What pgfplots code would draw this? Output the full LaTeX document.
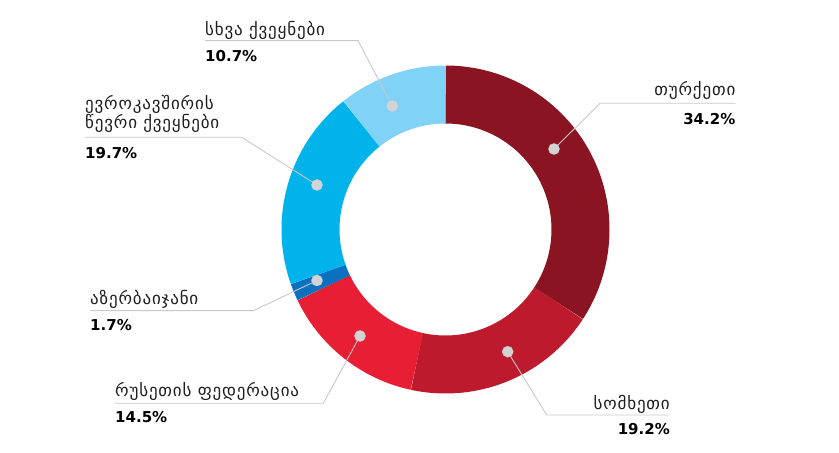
\documentclass[border=0pt]{standalone}
\usepackage{pgfplots}
\pgfplotsset{compat=1.18}
\usepackage{pgfplotstable}
\usepackage{fontspec}
\setmainfont{DejaVu Sans}
\newfontfamily\geofont[LetterSpace=5]{DejaVu Sans}
\definecolor{cTur}{HTML}{8A1421}
\definecolor{cArm}{HTML}{BD1A2D}
\definecolor{cRus}{HTML}{E81E34}
\definecolor{cAze}{HTML}{0B70C0}
\definecolor{cEU}{HTML}{00B3EB}
\definecolor{cOth}{HTML}{80D3F7}
\definecolor{dotgray}{HTML}{D3D3D5}
\definecolor{linegray}{HTML}{C8C8C8}
\definecolor{txt}{HTML}{1E1E1E}

\pgfplotstableread{
slice share
Turkey 34.2
Armenia 19.2
Russia 14.5
Azerbaijan 1.7
EU 19.7
Other 10.7
}\shares

\pgfplotstablegetelem{0}{share}\of\shares \let\vA\pgfplotsretval
\pgfplotstablegetelem{1}{share}\of\shares \let\vB\pgfplotsretval
\pgfplotstablegetelem{2}{share}\of\shares \let\vC\pgfplotsretval
\pgfplotstablegetelem{3}{share}\of\shares \let\vD\pgfplotsretval
\pgfplotstablegetelem{4}{share}\of\shares \let\vE\pgfplotsretval
\pgfplotstablegetelem{5}{share}\of\shares \let\vF\pgfplotsretval
\pgfmathsetmacro\aO{90}
\pgfmathsetmacro\aA{\aO-3.6*\vA}
\pgfmathsetmacro\aB{\aA-3.6*\vB}
\pgfmathsetmacro\aC{\aB-3.6*\vC}
\pgfmathsetmacro\aD{\aC-3.6*\vD}
\pgfmathsetmacro\aE{\aD-3.6*\vE}
\pgfmathsetmacro\aF{\aE-3.6*\vF}

\newcommand{\lab}{\geofont\fontsize{17bp}{20bp}\selectfont\color{txt}}
\newcommand{\pct}{\fontsize{15bp}{18bp}\selectfont\bfseries\color{black}}

\begin{document}
\begin{tikzpicture}
\useasboundingbox (0,0) rectangle (839bp,453bp);
\begin{axis}[
  x=1bp, y=1bp,
  xmin=0, xmax=839, ymin=0, ymax=453,
  hide axis, clip=false, scale only axis,
  anchor=south west, at={(0,0)},
]
% ring slices (mid radius 135, thickness 58), centre (445.5,223.5)
\addplot[draw=cTur, line width=58bp, domain=\aA:\aO, samples=120, variable=\t] ({445.5+135*cos(\t)},{223.5+135*sin(\t)});
\addplot[draw=cArm, line width=58bp, domain=\aB:\aA, samples=80, variable=\t] ({445.5+135*cos(\t)},{223.5+135*sin(\t)});
\addplot[draw=cRus, line width=58bp, domain=\aC:\aB, samples=70, variable=\t] ({445.5+135*cos(\t)},{223.5+135*sin(\t)});
\addplot[draw=cAze, line width=58bp, domain=\aD:\aC, samples=12, variable=\t] ({445.5+135*cos(\t)},{223.5+135*sin(\t)});
\addplot[draw=cEU, line width=58bp, domain=\aE:\aD, samples=80, variable=\t] ({445.5+135*cos(\t)},{223.5+135*sin(\t)});
\addplot[draw=cOth, line width=58bp, domain=\aF:\aE, samples=60, variable=\t] ({445.5+135*cos(\t)},{223.5+135*sin(\t)});

% leader lines
\addplot[linegray, line width=0.9bp] coordinates {(392.3,347) (358,412.3) (205,412.3)};
\addplot[linegray, line width=0.9bp] coordinates {(317,268) (241.7,315.7) (85,315.7)};
\addplot[linegray, line width=0.9bp] coordinates {(317,172.5) (253.3,142.3) (90,142.3)};
\addplot[linegray, line width=0.9bp] coordinates {(360,117) (323.3,49.7) (115,49.7)};
\addplot[linegray, line width=0.9bp] coordinates {(507.7,101.3) (546.7,38) (670,38)};
\addplot[linegray, line width=0.9bp] coordinates {(554,304) (600,349.7) (735.7,349.7)};

% dots
\addplot[dotgray, only marks, mark=*, mark size=5.6bp, mark options={draw=dotgray, fill=dotgray, line width=0.2bp}] coordinates {
(554,304) (507.7,101.3) (360,117) (317,172.5) (317,268) (392.3,347)};

% labels
\node[anchor=base west, inner sep=0] at (axis cs:205,417.3) {\lab სხვა ქვეყნები};
\node[anchor=base west, inner sep=0] at (axis cs:205,391.3) {\pct 10.7\%};

\node[anchor=base west, inner sep=0] at (axis cs:85,343.7) {\lab ევროკავშირის};
\node[anchor=base west, inner sep=0] at (axis cs:85,324.7) {\lab წევრი ქვეყნები};
\node[anchor=base west, inner sep=0] at (axis cs:85,294.7) {\pct 19.7\%};

\node[anchor=base west, inner sep=0] at (axis cs:90,148.7) {\lab აზერბაიჯანი};
\node[anchor=base west, inner sep=0] at (axis cs:90,122) {\pct 1.7\%};

\node[anchor=base west, inner sep=0] at (axis cs:115,56.3) {\lab რუსეთის ფედერაცია};
\node[anchor=base west, inner sep=0] at (axis cs:115,30.3) {\pct 14.5\%};

\node[anchor=base east, inner sep=0] at (axis cs:670,43) {\lab სომხეთი};
\node[anchor=base east, inner sep=0] at (axis cs:670,18.7) {\pct 19.2\%};

\node[anchor=base east, inner sep=0] at (axis cs:735.5,357) {\lab თურქეთი};
\node[anchor=base east, inner sep=0] at (axis cs:735.5,328) {\pct 34.2\%};
\end{axis}
\end{tikzpicture}
\end{document}
